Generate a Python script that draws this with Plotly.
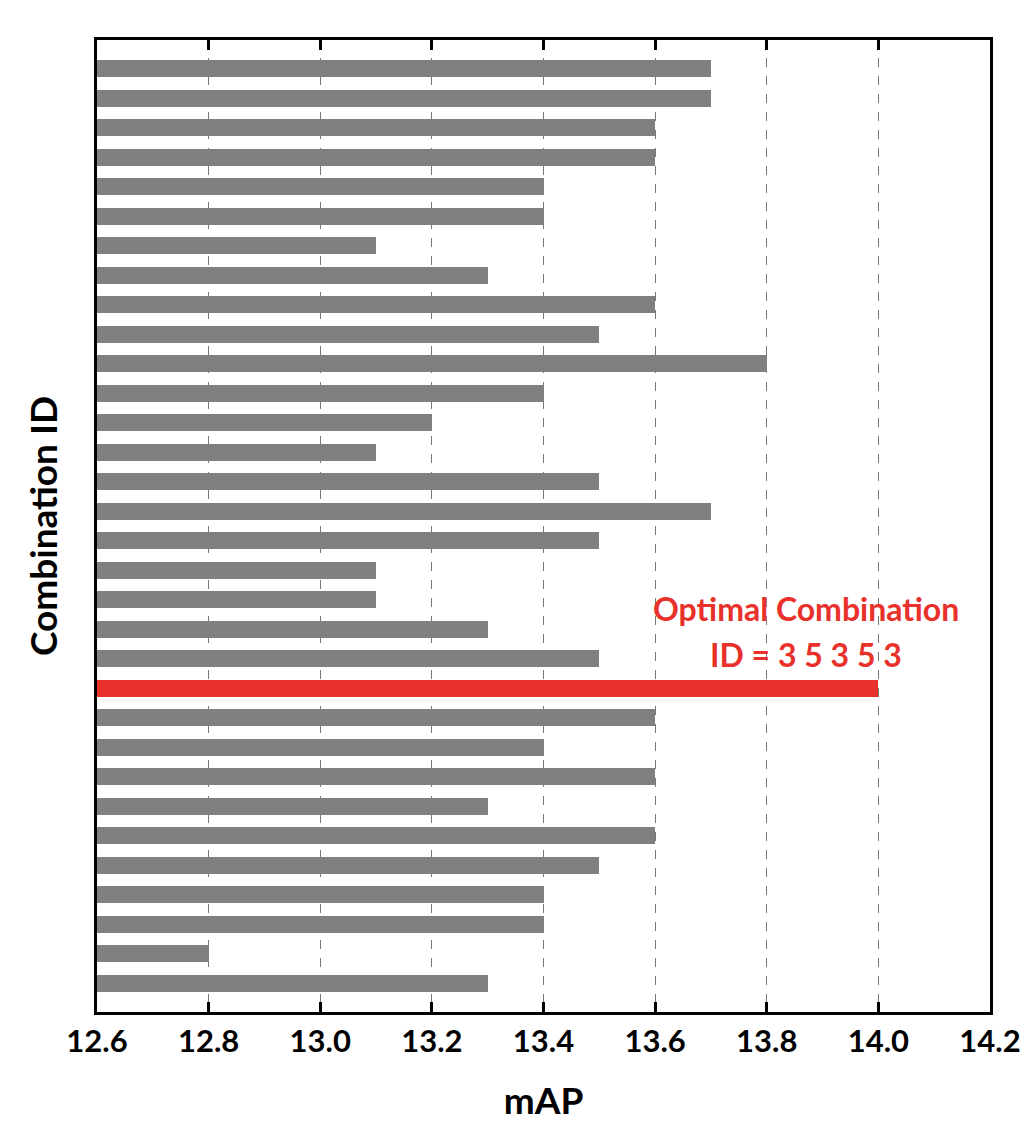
import plotly.graph_objects as go

# Data (top to bottom)
combo_ids = list(range(1, 33))
map_values = [13.7, 13.7, 13.6, 13.6, 13.4, 13.4, 13.1, 13.3, 13.6, 13.5,
              13.8, 13.4, 13.2, 13.1, 13.5, 13.7, 13.5, 13.1, 13.1, 13.3,
              13.5, 14.0, 13.6, 13.4, 13.6, 13.3, 13.6, 13.5, 13.4, 13.4,
              12.8, 13.3]
optimal_index = 21
x_ticks = [12.6, 12.8, 13.0, 13.2, 13.4, 13.6, 13.8, 14.0, 14.2]
x_min = 12.6

gray = "#808080"
red = "#e8312a"
colors = [red if i == optimal_index else gray for i in range(len(map_values))]

fig = go.Figure()
fig.add_trace(go.Bar(
    y=combo_ids,
    x=[v - x_min for v in map_values],
    base=x_min,
    orientation="h",
    marker=dict(color=colors, line=dict(width=0)),
    width=0.58,
    showlegend=False,
))

font_family = "Lato"

fig.add_annotation(x=13.87, y=19.3, text="Optimal Combination", showarrow=False,
                   font=dict(family=font_family, size=32, color=red, weight="bold"),
                   xanchor="center", yanchor="middle")
fig.add_annotation(x=13.87, y=20.86, text="ID = 3 5 3 5 3", showarrow=False,
                   font=dict(family=font_family, size=32, color=red, weight="bold"),
                   xanchor="center", yanchor="middle")

fig.update_layout(
    width=1036, height=1142,
    margin=dict(l=97, r=46, t=40, b=130),
    plot_bgcolor="white", paper_bgcolor="white",
    font=dict(family=font_family, color="black"),
    bargap=0,
)
fig.update_xaxes(
    range=[12.6, 14.2],
    tickvals=x_ticks,
    ticktext=[f"{t:.1f}" for t in x_ticks],
    tickfont=dict(size=31, weight="bold", family=font_family),
    ticks="inside", ticklen=10, tickwidth=3, tickcolor="black",
    showline=True, linecolor="black", linewidth=3, mirror="allticks",
    showgrid=True, gridcolor="#777777", gridwidth=1, griddash="dash",
    zeroline=False,
    title=dict(text="mAP", font=dict(size=37, weight="bold", family=font_family), standoff=30),
)
fig.update_yaxes(
    range=[32.98, 0.02],
    showticklabels=False, ticks="",
    showline=True, linecolor="black", linewidth=3, mirror=True,
    showgrid=False, zeroline=False,
    title=dict(text="Combination ID", font=dict(size=37, weight="bold", family=font_family), standoff=26),
)

fig.write_html("out.html")
